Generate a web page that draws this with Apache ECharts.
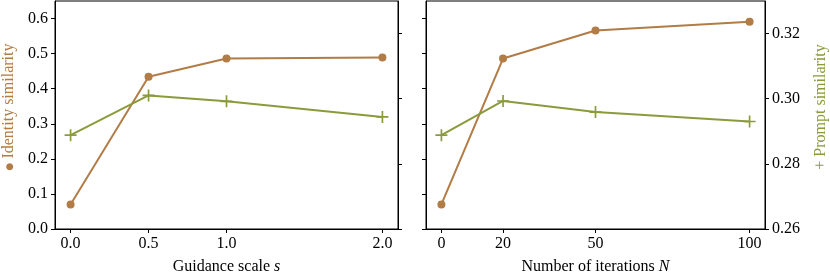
<!DOCTYPE html>
<html><head><meta charset="utf-8">
<script src="https://cdn.jsdelivr.net/npm/echarts@6/dist/echarts.min.js"></script>
<style>html,body{margin:0;padding:0;background:#fff}#c{width:830px;height:280px}</style>
</head><body><div id="c"></div>
<script>
const guidanceScale = [0, 0.5, 1.0, 2.0];
const identityByGuidance = [0.070, 0.434, 0.486, 0.489];
const promptByGuidance = [0.2888, 0.3010, 0.2992, 0.2944];
const iterations = [0, 20, 50, 100];
const identityByIter = [0.070, 0.486, 0.566, 0.591];
const promptByIter = [0.2888, 0.2993, 0.2959, 0.2930];
const identityTicks = [0, 0.1, 0.2, 0.3, 0.4, 0.5, 0.6];
const promptTicks = [0.26, 0.28, 0.30, 0.32];

const BROWN = '#b17c46', GREEN = '#8b9b3b';
const FONT = '"Liberation Serif", "DejaVu Serif", serif';
const FS = 16, NFS = 16;
const PLUS = 'path://M0,4.3H10V5.7H0Z M4.3,0H5.7V10H4.3Z';
const zip = (xs, ys) => xs.map((x, i) => [x, ys[i]]);

const baseAxis = {
  axisLine: {show: true, onZero: false, lineStyle: {color: '#000', width: 1}},
  axisTick: {show: true, length: 4, lineStyle: {color: '#000', width: 1}},
  splitLine: {show: false},
  axisLabel: {color: '#000', fontFamily: FONT, fontSize: FS}
};
function xAx(grid, min, max, ticks, dec, name) {
  return Object.assign({}, baseAxis, {
    type: 'value', gridIndex: grid, min, max,
    axisTick: Object.assign({}, baseAxis.axisTick, {customValues: ticks}),
    axisLabel: Object.assign({}, baseAxis.axisLabel, {customValues: ticks, margin: 7,
      formatter: v => v.toFixed(dec)}),
    name, nameLocation: 'middle', nameGap: 30,
    nameTextStyle: {color: '#000', fontFamily: FONT, fontSize: FS,
      rich: {t: {fontFamily: FONT, fontSize: FS, color: '#000'},
             i: {fontFamily: FONT, fontSize: FS, fontStyle: 'italic', color: '#000'}}}
  });
}
function yAx(grid, pos, min, max, ticks, dec, showLabel, name, color, gap) {
  const o = Object.assign({}, baseAxis, {
    type: 'value', gridIndex: grid, position: pos, min, max,
    axisTick: Object.assign({}, baseAxis.axisTick, {customValues: ticks}),
    axisLabel: Object.assign({}, baseAxis.axisLabel, {show: showLabel, customValues: ticks, margin: 7,
      formatter: v => v.toFixed(dec)})
  });
  if (name) {
    o.name = name; o.nameLocation = 'middle'; o.nameRotate = 90; o.nameGap = gap;
    o.nameTextStyle = {color, fontFamily: FONT, fontSize: NFS, padding: [0, 0, 0, 16],
      rich: {b: {color, fontFamily: 'DejaVu Sans', fontSize: 9, verticalAlign: 'middle', padding: [2, 0, 0, 0]},
             t: {color, fontFamily: FONT, fontSize: NFS}}};
  }
  return o;
}

const chart = echarts.init(document.getElementById('c'), null, {renderer: 'canvas'});
chart.setOption({
  animation: false,
  grid: [
    {left: 55, top: 1, width: 343, height: 229, show: true, borderColor: '#000', borderWidth: 1, backgroundColor: 'transparent'},
    {left: 426, top: 1, width: 341, height: 229, show: true, borderColor: '#000', borderWidth: 1, backgroundColor: 'transparent'}
  ],
  xAxis: [
    xAx(0, -0.1, 2.1, guidanceScale, 1, '{t|Guidance scale }{i|s}'),
    xAx(1, -5, 105, iterations, 0, '{t|Number of iterations }{i|N}')
  ],
  yAxis: [
    yAx(0, 'left', 0, 0.65, identityTicks, 1, true, '{b|●}{t| Identity similarity}', BROWN, 38),
    yAx(0, 'right', 0.26, 0.33, promptTicks, 2, false),
    yAx(1, 'left', 0, 0.65, identityTicks, 1, false),
    yAx(1, 'right', 0.26, 0.33, promptTicks, 2, true, '{t|+ Prompt similarity}', GREEN, 48)
  ],
  series: [
    {type: 'line', xAxisIndex: 0, yAxisIndex: 0, data: zip(guidanceScale, identityByGuidance),
     symbol: 'circle', symbolSize: 8, lineStyle: {color: BROWN, width: 2}, itemStyle: {color: BROWN}, z: 2},
    {type: 'line', xAxisIndex: 0, yAxisIndex: 1, data: zip(guidanceScale, promptByGuidance),
     symbol: PLUS, symbolSize: 12, lineStyle: {color: GREEN, width: 2}, itemStyle: {color: GREEN}, z: 3},
    {type: 'line', xAxisIndex: 1, yAxisIndex: 2, data: zip(iterations, identityByIter),
     symbol: 'circle', symbolSize: 8, lineStyle: {color: BROWN, width: 2}, itemStyle: {color: BROWN}, z: 2},
    {type: 'line', xAxisIndex: 1, yAxisIndex: 3, data: zip(iterations, promptByIter),
     symbol: PLUS, symbolSize: 12, lineStyle: {color: GREEN, width: 2}, itemStyle: {color: GREEN}, z: 3}
  ]
});
</script></body></html>
